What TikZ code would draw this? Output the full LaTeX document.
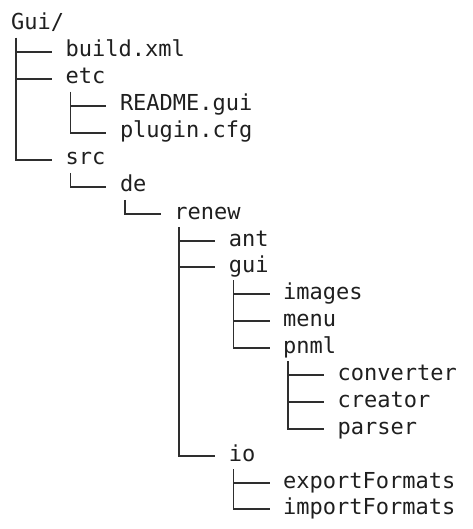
\documentclass[tikz,border=0pt]{standalone}
\usepackage{fontspec}
\setmonofont{DejaVu Sans Mono}
\usetikzlibrary{calc}

\begin{document}
\begin{tikzpicture}[
  x=1pt, y=-1pt,
  entry/.style={font=\ttfamily\fontsize{22}{26}\selectfont, anchor=base west,
                inner sep=0pt, text=black!88},
  branch/.style={draw=black!82, line width=1.7pt},
]

\useasboundingbox (0,0) rectangle (472,529);

%% ── Tree entries (columns 54.4 apart, rows 26.9 apart, baseline = row + 5) ───
\node[entry] (root)      at (11,    30)  {Gui/};
\node[entry] (build)     at (65.4,  57)  {build.xml};
\node[entry] (etc)       at (65.4,  84)  {etc};
\node[entry] (readme)    at (119.8, 111) {README.gui};
\node[entry] (plugin)    at (119.8, 138) {plugin.cfg};
\node[entry] (src)       at (65.4,  165) {src};
\node[entry] (de)        at (119.8, 192) {de};
\node[entry] (renew)     at (174.2, 219) {renew};
\node[entry] (ant)       at (228.6, 246) {ant};
\node[entry] (gui)       at (228.6, 272) {gui};
\node[entry] (images)    at (283,   299) {images};
\node[entry] (menu)      at (283,   326) {menu};
\node[entry] (pnml)      at (283,   353) {pnml};
\node[entry] (converter) at (337.4, 380) {converter};
\node[entry] (creator)   at (337.4, 407) {creator};
\node[entry] (parser)    at (337.4, 434) {parser};
\node[entry] (io)        at (228.6, 461) {io};
\node[entry] (export)    at (283,   488) {exportFormats};
\node[entry] (import)    at (283,   514) {importFormats};

%% ── Branches: down from the parent, across to the child ─────────────────────
\foreach \up/\kid in {root/build, root/etc, root/src,
                      etc/readme, etc/plugin,
                      src/de, de/renew,
                      renew/ant, renew/gui, renew/io,
                      gui/images, gui/menu, gui/pnml,
                      pnml/converter, pnml/creator, pnml/parser,
                      io/export, io/import}
  \draw[branch] ($(\up.base west)+(5,8)$) |- ($(\kid.base west)+(-13.5,-5)$);

\end{tikzpicture}
\end{document}
